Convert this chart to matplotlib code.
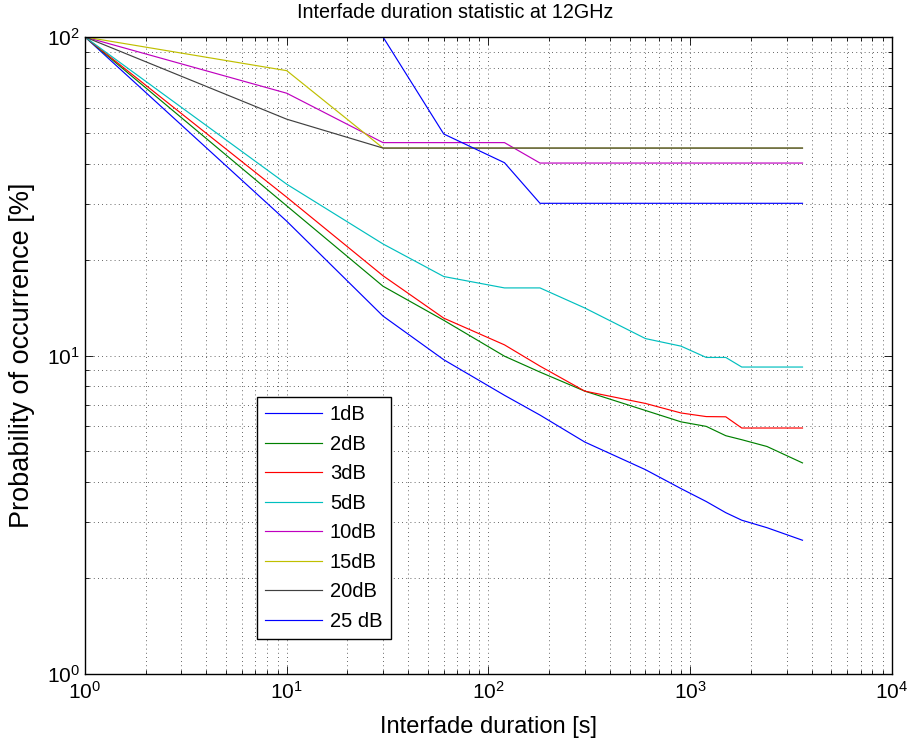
import matplotlib
matplotlib.use("Agg")
import matplotlib.pyplot as plt
from matplotlib.ticker import LogLocator, NullFormatter

plt.rcParams['font.family'] = ['Liberation Sans', 'DejaVu Sans']
plt.rcParams['mathtext.default'] = 'regular'

# Interfade durations [s]
durations = [1, 10, 30, 60, 120, 180, 300, 600, 900, 1200, 1500, 1800, 2400, 3600]

# Probability of occurrence [%] for each fade threshold
p_1dB = [100, 26.4, 13.3, 9.7, 7.5, 6.5, 5.35, 4.38, 3.82, 3.48, 3.21, 3.04, 2.88, 2.63]
p_2dB = [100, 29.5, 16.5, 12.9, 9.95, 8.87, 7.73, 6.72, 6.19, 5.99, 5.60, 5.44, 5.18, 4.60]
p_3dB = [100, 31.4, 17.8, 13.1, 10.8, 9.26, 7.73, 7.07, 6.60, 6.43, 6.42, 5.92, 5.92, 5.92]
p_5dB = [100, 34.5, 22.4, 17.7, 16.3, 16.3, 14.1, 11.3, 10.7, 9.86, 9.86, 9.20, 9.20, 9.20]
p_10dB = [100, 66.6, 46.6, 46.6, 46.6, 40.2, 40.2, 40.2, 40.2, 40.2, 40.2, 40.2, 40.2, 40.2]
p_15dB = [100, 78.4, 44.8, 44.8, 44.8, 44.8, 44.8, 44.8, 44.8, 44.8, 44.8, 44.8, 44.8, 44.8]
p_20dB = [100, 55.2, 44.8, 44.8, 44.8, 44.8, 44.8, 44.8, 44.8, 44.8, 44.8, 44.8, 44.8, 44.8]
p_25dB = [100, 100, 100, 49.6, 40.3, 30.05, 30.05, 30.05, 30.05, 30.05, 30.05, 30.05, 30.05, 30.05]

labels = ['1dB', '2dB', '3dB', '5dB', '10dB', '15dB', '20dB', '25 dB']
series = [p_1dB, p_2dB, p_3dB, p_5dB, p_10dB, p_15dB, p_20dB, p_25dB]
colors = [(0, 0, 1), (0, 0.5, 0), (1, 0, 0), (0, 0.75, 0.75),
          (0.75, 0, 0.75), (0.75, 0.75, 0), (0.25, 0.25, 0.25), (0, 0, 1)]

W, H = 912, 744
fig = plt.figure(figsize=(W / 100, H / 100), dpi=100)
ax = fig.add_axes([85 / W, 1 - 674 / H, 807 / W, 637 / H])

for vals, lab, col in zip(series, labels, colors):
    ax.plot(durations, vals, color=col, lw=0.85, label=lab)

ax.set_xscale('log')
ax.set_yscale('log')
ax.set_xlim(1, 1e4)
ax.set_ylim(1, 100)

ax.xaxis.set_major_locator(LogLocator(base=10, numticks=10))
ax.yaxis.set_major_locator(LogLocator(base=10, numticks=10))
ax.xaxis.set_minor_locator(LogLocator(base=10, subs=range(2, 10), numticks=50))
ax.yaxis.set_minor_locator(LogLocator(base=10, subs=range(2, 10), numticks=50))
ax.xaxis.set_minor_formatter(NullFormatter())
ax.yaxis.set_minor_formatter(NullFormatter())

ax.grid(True, which='both', color='k', linestyle=(0, (1, 4)), lw=0.6, alpha=0.8)
ax.tick_params(which='both', direction='in', top=True, right=True, labelsize=15,
               width=0.6, color='k')
ax.tick_params(axis='x', which='major', pad=5)
ax.tick_params(which='major', length=6)
ax.tick_params(which='minor', length=3)
for sp in ax.spines.values():
    sp.set_linewidth(1.0)

# Title
fig.text(455 / W, 1 - 13 / H, 'Interfade duration statistic at 12GHz',
         fontsize=14.2, ha='center', va='center')

ax.set_xlabel('Interfade duration [s]', fontsize=17, va='center')
ax.xaxis.set_label_coords(0.5, (674 - 727) / 637)
ax.set_ylabel('Probability of occurrence [%]', fontsize=19.5, va='center')
ax.yaxis.set_label_coords((22 - 85) / 807, 0.5)

leg = ax.legend(loc='upper left', bbox_to_anchor=(257 / W, 1 - 397 / H),
                bbox_transform=fig.transFigure, fontsize=14.5, frameon=True,
                fancybox=False, borderaxespad=0, handlelength=2.8,
                labelspacing=0.52, borderpad=0.42, handletextpad=0.4)
leg.get_frame().set_edgecolor('k')
leg.get_frame().set_linewidth(1.0)
leg.get_frame().set_alpha(1)

fig.savefig('out.png', dpi=100)
